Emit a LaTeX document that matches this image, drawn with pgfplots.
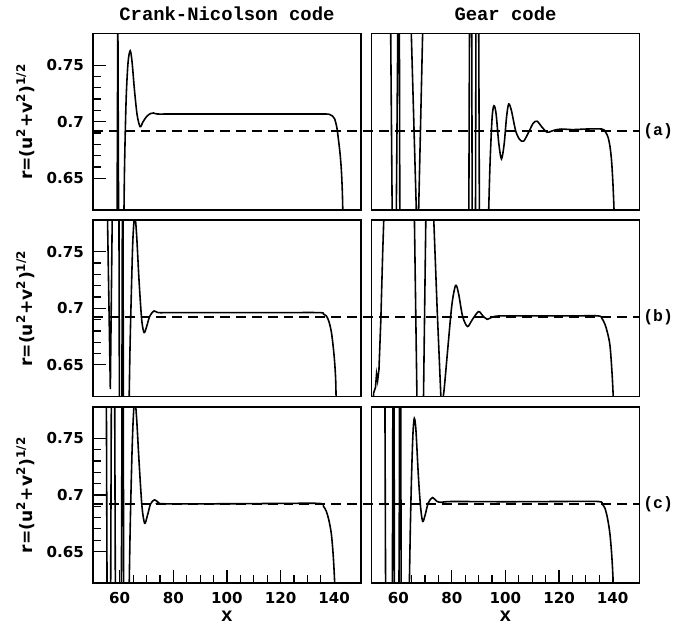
\documentclass[border=0pt]{standalone}
\usepackage{fontspec}
\setmainfont{Liberation Sans}
\newfontfamily\tickfont{DejaVu Sans}
\newfontfamily\monob{Liberation Mono}
\usepackage{pgfplots}
\pgfplotsset{compat=1.18}
\usepgfplotslibrary{groupplots}

% one panel of the 3x2 grid
\pgfplotsset{
  panel/.style={
    scale only axis, width=135pt, height=88.9pt,
    xmin=50, xmax=150, ymin=0.622, ymax=0.778,
    xtick={60,80,...,140}, minor x tick num=3,
    ytick={0.65,0.7,0.75}, minor y tick num=4,
    yticklabels={0.65,0.7,0.75},
    axis line style={line width=0.9pt},
    tick style={line width=0.6pt, black},
    major tick length=6.5pt, minor tick length=4pt,
    xtick pos=bottom, ytick pos=left,
    tick label style={font=\tickfont\bfseries\fontsize{7.6}{9}\selectfont},
    /pgf/number format/assume math mode=true,
    yticklabel style={xshift=-1pt},
    xticklabel style={yshift=-1pt},
    title style={font=\monob\bfseries\fontsize{9.5}{10}\selectfont, yshift=-3pt},
    ylabel style={font=\tickfont\bfseries\fontsize{8.6}{9}\selectfont, yshift=-1pt},
    xlabel style={font=\bfseries\fontsize{10}{10}\selectfont, yshift=3pt},
  },
  spikes/.style={black, line width=0.8pt, no marks},
  curve/.style={black, line width=0.8pt, no marks, smooth, tension=0.5},
  refline/.style={
    at={#1}, anchor=south west, scale only axis,
    width=275.3pt, height=88.9pt,
    xmin=0, xmax=1, ymin=0.622, ymax=0.778, hide axis, clip=false,
  },
  dashref/.style={black, line width=0.9pt, dash pattern=on 5pt off 3pt, no marks},
}
\tikzset{tag/.style={anchor=west, inner sep=1.5pt, font=\monob\bfseries\fontsize{8.3}{9}\selectfont}}
\newcommand{\rlabel}{r=(u\textsuperscript{2}+v\textsuperscript{2})\textsuperscript{1/2}}

\begin{document}
\begin{tikzpicture}
\begin{groupplot}[
  group style={group size=2 by 3, horizontal sep=5.3pt, vertical sep=5.1pt},
  panel,
]
% (a) Crank-Nicolson
\nextgroupplot[title={Crank-Nicolson code}, xtick=\empty, ylabel={\rlabel}]
\addplot[spikes] coordinates {
  (59.0,0.60)(59.3,0.80)(59.6,0.60)(61.5,0.60)
};
\addplot[curve] coordinates {
  (61.5,0.60)(61.8,0.66)(62.4,0.72)(63.1,0.752)(63.9,0.7627)(64.6,0.753)
  (65.5,0.728)(66.5,0.706)(67.6,0.6956)(68.6,0.6995)(70.0,0.7045)(71.5,0.7072)
  (72.6,0.7077)(74.0,0.7068)(80,0.7068)(100,0.7068)(120,0.7068)(136,0.7068)
  (138.3,0.7064)(139.4,0.705)(140.2,0.7024)(141.0,0.695)(141.5,0.6863)(142.2,0.672)
  (142.7,0.657)(143.1,0.635)(143.4,0.60)
};
% (a) Gear
\nextgroupplot[title={Gear code}, xtick=\empty, ytick=\empty]
\addplot[spikes] coordinates {
  (57.1,0.80)(57.8,0.60)(59.2,0.60)(59.9,0.80)(60.4,0.80)(60.6,0.60)(67.0,0.60)
  (64.6,0.80)(69.3,0.80)(67.4,0.60)(86.3,0.60)(86.6,0.80)(87.4,0.80)(87.6,0.60)
  (88.8,0.60)(89.0,0.80)(90.0,0.80)(90.3,0.60)(93.5,0.60)
};
\addplot[curve] coordinates {
  (93.5,0.60)(94.2,0.66)(95.0,0.703)(95.7,0.7141)(96.5,0.707)(97.5,0.681)
  (98.5,0.6671)(99.5,0.680)(100.4,0.704)(101.2,0.7156)(102.2,0.710)(103.8,0.692)
  (105.3,0.6842)(106.8,0.6829)(108.5,0.690)(110.3,0.6985)(111.8,0.7004)(113.5,0.6955)
  (115.5,0.6907)(117.0,0.6915)(118.6,0.6927)(121,0.6935)(125,0.693)(130,0.6935)
  (136.0,0.6935)(137.3,0.691)(138.3,0.686)(139.0,0.678)(139.6,0.665)(140.1,0.645)
  (140.5,0.622)(140.7,0.60)
};
% (b) Crank-Nicolson
\nextgroupplot[xtick=\empty, ylabel={\rlabel}]
\addplot[spikes] coordinates {
  (55.3,0.80)(56.5,0.6286)(57.3,0.80)(59.7,0.80)(59.9,0.60)(60.8,0.60)(61.0,0.80)
  (61.2,0.80)(61.4,0.60)(63.4,0.60)
};
\addplot[curve] coordinates {
  (63.4,0.60)(63.8,0.66)(64.3,0.71)(64.9,0.76)(65.6,0.782)(66.3,0.765)(67.2,0.725)
  (68.2,0.690)(69.1,0.6786)(70.0,0.6835)(71.2,0.693)(72.8,0.6977)(74.3,0.6962)
  (80,0.6962)(100,0.6962)(120,0.6962)(134.6,0.6962)(136.0,0.695)(137.1,0.6933)
  (138.1,0.688)(139.0,0.6786)(139.7,0.665)(140.2,0.652)(140.6,0.635)(140.9,0.60)
};
% (b) Gear
\nextgroupplot[xtick=\empty, ytick=\empty]
\addplot[spikes] coordinates {
  (50.4,0.60)(50.8,0.625)(51.5,0.630)(51.9,0.642)(52.3,0.636)(52.8,0.646)(53.5,0.69)
  (54.2,0.75)(54.9,0.80)(65.9,0.80)(67.1,0.60)(69.3,0.60)(70.4,0.80)(72.9,0.80)
  (74.5,0.70)(75.9,0.622)
};
\addplot[curve] coordinates {
  (75.9,0.622)(76.4,0.618)(77.1,0.628)(78.5,0.665)(80.0,0.703)(81.4,0.7203)
  (82.5,0.713)(84.0,0.693)(85.8,0.6839)(87.5,0.6895)(89.9,0.6971)(91.5,0.6935)
  (93.2,0.6903)(95,0.6922)(98,0.6933)(110,0.6933)(125,0.6933)(134.6,0.6933)
  (136.0,0.691)(137.1,0.686)(138.1,0.678)(139.0,0.667)(139.7,0.645)(140.2,0.622)
  (140.4,0.60)
};
% (c) Crank-Nicolson
\nextgroupplot[ylabel={\rlabel}, xlabel={x}]
\addplot[spikes] coordinates {
  (55.0,0.80)(55.3,0.60)(56.6,0.60)(56.9,0.80)(58.1,0.80)(58.4,0.60)(60.6,0.60)
  (60.9,0.80)(61.3,0.80)(61.5,0.60)(63.4,0.60)
};
\addplot[curve] coordinates {
  (63.4,0.60)(63.9,0.67)(64.5,0.73)(65.0,0.765)(65.6,0.785)(66.3,0.768)(67.2,0.73)
  (68.3,0.69)(69.3,0.675)(70.3,0.6815)(71.5,0.692)(73.0,0.6957)(74.5,0.6932)
  (76,0.6922)(100,0.6922)(120,0.6925)(134.6,0.6925)(136.0,0.690)(137.1,0.6854)
  (138.1,0.677)(139.0,0.6648)(139.7,0.645)(140.2,0.622)(140.4,0.60)
};
% (c) Gear
\nextgroupplot[ytick=\empty, xlabel={x}]
\addplot[spikes] coordinates {
  (55.0,0.80)(55.3,0.60)(57.8,0.60)(58.0,0.80)(58.4,0.80)(58.6,0.60)(60.3,0.60)
  (60.5,0.80)(60.9,0.80)(61.1,0.60)(64.0,0.60)
};
\addplot[curve] coordinates {
  (64.0,0.60)(64.5,0.67)(65.0,0.72)(65.5,0.755)(66.0,0.7677)(66.6,0.757)(67.5,0.717)
  (68.3,0.69)(69.1,0.6766)(70.0,0.682)(71.2,0.693)(72.8,0.6977)(74.3,0.6945)
  (76,0.6935)(80,0.6942)(100,0.694)(120,0.6942)(134.6,0.6942)(136.0,0.692)
  (137.1,0.6883)(138.1,0.679)(139.0,0.665)(139.7,0.645)(140.2,0.622)(140.4,0.60)
};
\end{groupplot}
% dashed reference level running across both columns of each row
\begin{axis}[refline={(group c1r1.south west)}]
\addplot[dashref] coordinates {(0,0.692)(1,0.692)} node[tag, pos=1] {(a)};
\end{axis}
\begin{axis}[refline={(group c1r2.south west)}]
\addplot[dashref] coordinates {(0,0.692)(1,0.692)} node[tag, pos=1] {(b)};
\end{axis}
\begin{axis}[refline={(group c1r3.south west)}]
\addplot[dashref] coordinates {(0,0.692)(1,0.692)} node[tag, pos=1] {(c)};
\end{axis}
% white margin of the original figure
\path ([xshift=-46.8pt, yshift=-23.1pt]group c1r3.south west)
  rectangle ([xshift=16pt, yshift=14.6pt]group c2r1.north east);
\end{tikzpicture}
\end{document}
